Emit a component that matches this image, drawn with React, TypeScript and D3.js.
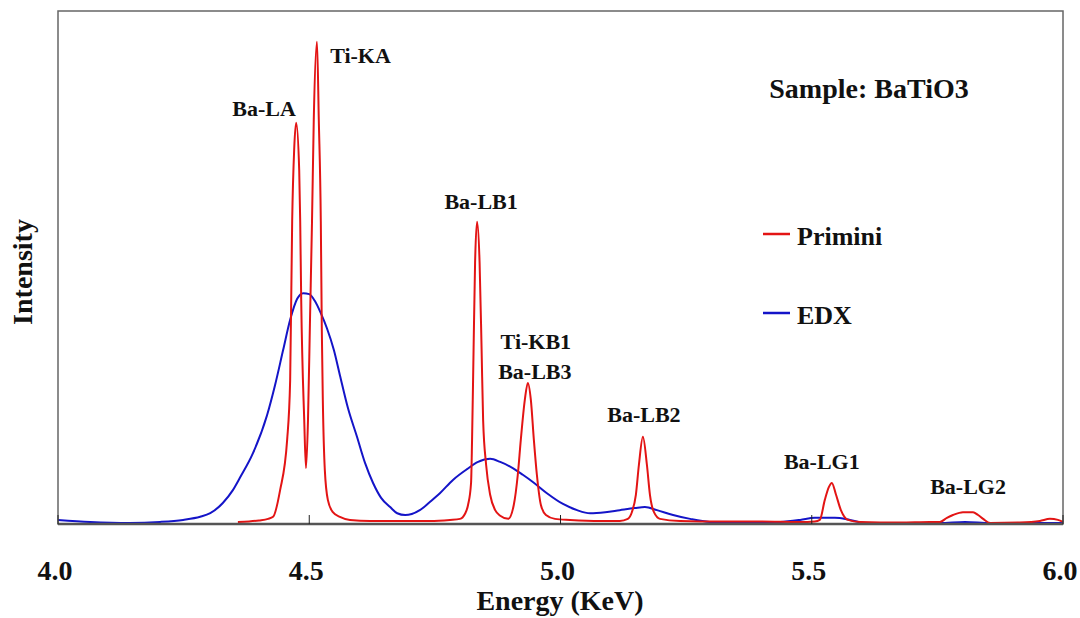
import * as React from 'react'
import * as d3 from 'd3'

const WIDTH = 1080
const HEIGHT = 618
const PLOT_LEFT = 58
const PLOT_RIGHT = 1063
const PLOT_TOP = 11
const PLOT_BOTTOM = 524
const FONT = "'Liberation Serif', 'Times New Roman', serif"

// energy (KeV)
const priminiEnergy = [
  4.358, 4.38, 4.4, 4.418, 4.428, 4.442, 4.456, 4.462, 4.466, 4.47, 4.474,
  4.48, 4.482, 4.484, 4.49, 4.4935, 4.4975, 4.5015, 4.5055, 4.509, 4.5154,
  4.519, 4.523, 4.525, 4.527, 4.531, 4.537, 4.547, 4.561, 4.581, 4.621,
  4.681, 4.74, 4.78, 4.8, 4.81, 4.816, 4.822, 4.824, 4.827, 4.83, 4.834,
  4.839, 4.843, 4.846, 4.852, 4.86, 4.87, 4.88, 4.896, 4.907, 4.915, 4.921,
  4.929, 4.935, 4.941, 4.947, 4.953, 4.961, 4.971, 4.989, 5.019, 5.079,
  5.118, 5.134, 5.142, 5.15, 5.156, 5.164, 5.172, 5.178, 5.186, 5.198,
  5.238, 5.317, 5.397, 5.477, 5.506, 5.516, 5.526, 5.534, 5.54, 5.548,
  5.558, 5.572, 5.596, 5.676, 5.735, 5.755, 5.769, 5.781, 5.801, 5.821,
  5.831, 5.841, 5.855, 5.914, 5.954, 5.974, 5.99, 6.0
]
const priminiIntensity = [
  0.4, 0.5, 0.7, 1.0, 1.4, 6.6, 16.4, 28, 59, 73, 78.2,
  69, 59, 43.7, 20.3, 10.9, 20.3, 39.8, 59, 78.8, 94,
  78.8, 59, 37.8, 24.2, 10.5, 4.7, 2.3, 1.4, 0.8, 0.6,
  0.6, 0.6, 0.8, 1.0, 2.0, 3.7, 8.0, 16.4, 33.9, 50.9, 58.9,
  50.9, 33.9, 20.3, 11.5, 5.7, 2.7, 1.6, 1.0, 3.7, 9.6, 16.4,
  24.2, 27.5, 24.2, 16.4, 9.6, 3.7, 1.75, 1.0, 0.8, 0.6,
  0.6, 1.0, 2.3, 5.7, 11.5, 17, 11.5, 5.7, 2.3, 1.0,
  0.6, 0.5, 0.5, 0.4, 0.5, 0.8, 4.7, 7.2, 8.0, 5.8,
  2.7, 0.8, 0.4, 0.3, 0.4, 0.4, 1.2, 1.75, 2.3, 2.3,
  1.75, 1.0, 0.2, 0.3, 0.6, 1.0, 0.8, 0.4
]

const edxEnergy = [
  4.0, 4.064, 4.143, 4.203, 4.249, 4.283, 4.303, 4.328, 4.348, 4.362, 4.388,
  4.416, 4.432, 4.448, 4.462, 4.476, 4.488, 4.5, 4.511, 4.523, 4.535, 4.549,
  4.561, 4.577, 4.595, 4.611, 4.627, 4.643, 4.661, 4.675, 4.691, 4.704, 4.72,
  4.74, 4.76, 4.786, 4.814, 4.836, 4.86, 4.88, 4.905, 4.925, 4.945, 4.973,
  5.005, 5.033, 5.059, 5.089, 5.118, 5.148, 5.168, 5.192, 5.224, 5.258,
  5.297, 5.357, 5.437, 5.477, 5.506, 5.546, 5.576, 5.606, 5.676, 5.755,
  5.805, 5.855, 5.934, 6.0
]
const edxIntensity = [
  0.8, 0.4, 0.2, 0.4, 0.8, 1.4, 2.1, 4.1, 6.6, 9.0, 13.8,
  21.2, 27.1, 33.9, 39.8, 43.9, 45.0, 44.8, 43.5, 41.1, 38.2, 33.9,
  29.0, 22.6, 17.0, 11.9, 8.0, 5.1, 3.3, 2.1, 1.75, 1.95, 2.7,
  4.3, 6.0, 8.6, 10.7, 12.1, 12.7, 12.1, 10.9, 9.6, 8.2, 6.0,
  3.9, 2.7, 2.1, 2.3, 2.7, 3.1, 3.3, 2.7, 1.75, 1.0,
  0.4, 0.2, 0.4, 0.8, 1.2, 1.2, 0.8, 0.2, 0.2, 0.2,
  0.4, 0.2, 0.2, 0.2
]

const xTicks = [4.0, 4.5, 5.0, 5.5, 6.0]

// peak names and where they sit (energy, intensity of the text baseline)
const peakNames = ['Ba-LA', 'Ti-KA', 'Ba-LB1', 'Ti-KB1', 'Ba-LB3', 'Ba-LB2', 'Ba-LG1', 'Ba-LG2']
const peakLabelEnergy = [4.41, 4.602, 4.842, 4.951, 4.949, 5.166, 5.52, 5.811]
const peakLabelIntensity = [79.5, 89.9, 61.4, 34.1, 28.3, 19.9, 10.7, 5.8]

const seriesNames = ['Primini', 'EDX']
const seriesColors = ['#e31414', '#1414c8']

export default function App() {
  const x = d3.scaleLinear().domain([4, 6]).range([PLOT_LEFT, PLOT_RIGHT])
  const y = d3.scaleLinear().domain([0, 100]).range([PLOT_BOTTOM, PLOT_TOP])

  const line = d3
    .line<[number, number]>()
    .x(d => x(d[0]))
    .y(d => y(d[1]))
    .curve(d3.curveMonotoneX)

  const primini = priminiEnergy.map((e, i) => [e, priminiIntensity[i]] as [number, number])
  const edx = edxEnergy.map((e, i) => [e, edxIntensity[i]] as [number, number])

  return (
    <svg
      width={WIDTH}
      height={HEIGHT}
      style={{ position: 'absolute', left: 0, top: 0, background: '#fff' }}
      fontFamily={FONT}
      fontWeight="bold"
    >
      <rect x={0} y={0} width={WIDTH} height={HEIGHT} fill="#fff" />
      <path d={line(edx) ?? ''} fill="none" stroke={seriesColors[1]} strokeWidth={2} />
      <path d={line(primini) ?? ''} fill="none" stroke={seriesColors[0]} strokeWidth={2} />

      {/* frame */}
      <rect
        x={PLOT_LEFT}
        y={PLOT_TOP}
        width={PLOT_RIGHT - PLOT_LEFT}
        height={PLOT_BOTTOM - PLOT_TOP}
        fill="none"
        stroke="#666"
        strokeWidth={1.5}
      />
      <line x1={PLOT_LEFT} x2={PLOT_RIGHT} y1={PLOT_BOTTOM} y2={PLOT_BOTTOM} stroke="#555" strokeWidth={2.5} />

      {xTicks.map(t => (
        <g key={t}>
          <line x1={x(t)} x2={x(t)} y1={PLOT_BOTTOM} y2={PLOT_BOTTOM - 9} stroke="#222" strokeWidth={1} />
          <text x={x(t) - 3} y={580} fontSize={28} textAnchor="middle" fill="#111">
            {t.toFixed(1)}
          </text>
        </g>
      ))}

      <text x={560} y={610} fontSize={28} textAnchor="middle" fill="#111">
        Energy (KeV)
      </text>
      <text
        transform={`translate(32,272) rotate(-90)`}
        fontSize={28}
        textAnchor="middle"
        fill="#111"
      >
        Intensity
      </text>

      {peakNames.map((name, i) => (
        <text
          key={name}
          x={x(peakLabelEnergy[i])}
          y={y(peakLabelIntensity[i])}
          fontSize={22}
          textAnchor="middle"
          fill="#111"
        >
          {name}
        </text>
      ))}

      <text x={869} y={98} fontSize={28} textAnchor="middle" fill="#111">
        Sample: BaTiO3
      </text>

      {seriesNames.map((name, i) => (
        <g key={name} transform={`translate(0,${234 + i * 79})`}>
          <line x1={763} x2={790} y1={0} y2={0} stroke={seriesColors[i]} strokeWidth={2.5} />
          <text x={797} y={11} fontSize={26} fill="#111">
            {name}
          </text>
        </g>
      ))}
    </svg>
  )
}
